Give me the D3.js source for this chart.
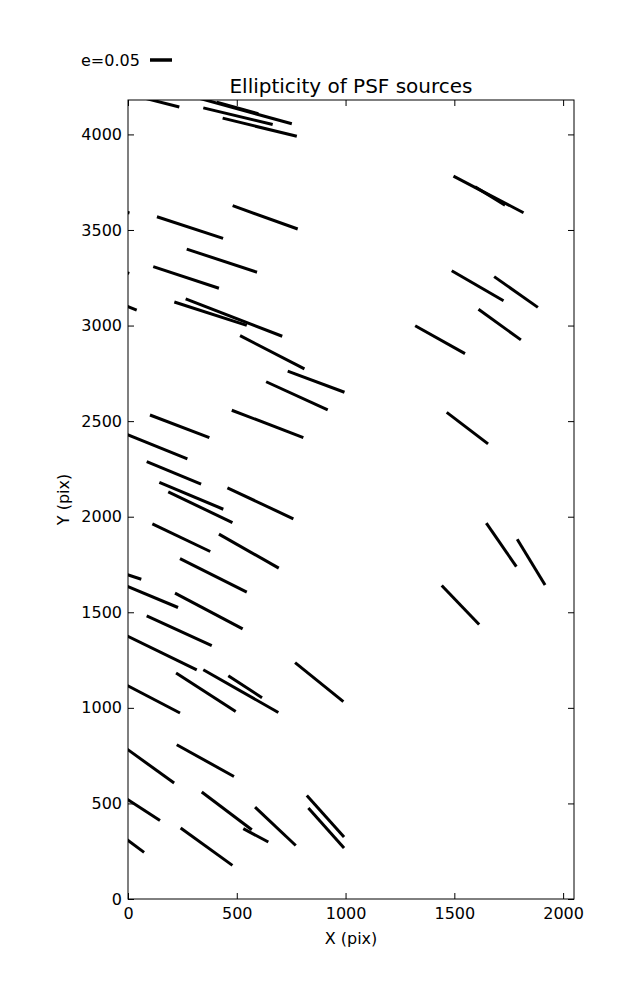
<!DOCTYPE html>
<html>
<head>
<meta charset="utf-8">
<script src="https://cdn.jsdelivr.net/npm/d3@7"></script>
<style>
  html, body { margin: 0; padding: 0; background: #fff; }
  svg { display: block; font-family: "DejaVu Sans", sans-serif; }
</style>
</head>
<body>
<svg id="chart" width="637" height="1000"></svg>
<script>
// ---- data (pixel units of the CCD) ----
const title = "Ellipticity of PSF sources";
const xLabel = "X (pix)";
const yLabel = "Y (pix)";
const legendLabel = "e=0.05";
const xTicks = [0, 500, 1000, 1500, 2000];
const yTicks = [0, 500, 1000, 1500, 2000, 2500, 3000, 3500, 4000];
const xDomain = [0, 2050];
const yDomain = [0, 4180];

// whisker segments: start (x0,y0) and end (x1,y1)
const x0 = [55, 308, 408, 346, 435, 1496, 1595, 481, 133, -82, -80, -60, 270, 116, 1320, 1488, 1683, 1611, 213, 265, 515, 734, 635, 1465, 101, 477, -37, 86, 144, 185, 457, 1647, 1789, 112, 418, 239, -37, -37, 216, 86, -46, 346, 461, 221, 768, -37, -37, 224, -37, 339, 530, 584, 822, 829, -37, 242, 1442];
const y0 = [4196, 4195, 4169, 4139, 4085, 3782, 3726, 3627, 3569, 3615, 3300, 3125, 3400, 3308, 2999, 3287, 3256, 3085, 3123, 3140, 2947, 2762, 2706, 2546, 2532, 2557, 2445, 2288, 2180, 2130, 2151, 1966, 1882, 1962, 1909, 1781, 1709, 1652, 1600, 1481, 1399, 1199, 1168, 1182, 1237, 1137, 811, 807, 546, 560, 368, 481, 542, 476, 338, 371, 1640];
const x1 = [236, 753, 599, 665, 776, 1818, 1733, 780, 437, 7, 6, 40, 593, 418, 1549, 1726, 1884, 1806, 546, 709, 811, 995, 918, 1655, 374, 806, 273, 336, 438, 480, 760, 1785, 1917, 378, 693, 546, 61, 230, 527, 385, 316, 691, 616, 495, 990, 239, 212, 487, 147, 569, 645, 771, 993, 993, 74, 480, 1614];
const y1 = [4143, 4056, 4108, 4052, 3990, 3590, 3630, 3505, 3456, 3589, 3273, 3081, 3279, 3195, 2853, 3130, 3095, 2925, 3001, 2944, 2773, 2651, 2559, 2381, 2414, 2414, 2302, 2170, 2039, 1969, 1989, 1739, 1643, 1818, 1731, 1605, 1673, 1525, 1413, 1326, 1199, 976, 1053, 981, 1033, 973, 607, 641, 411, 362, 298, 280, 324, 267, 244, 176, 1436];

// ---- layout ----
const W = 637, H = 1000;
const mLeft = 128, mRight = 574, mTop = 100, mBottom = 899;
const svg = d3.select("#chart");

const x = d3.scaleLinear().domain(xDomain).range([mLeft, mRight]);
const y = d3.scaleLinear().domain(yDomain).range([mBottom, mTop]);

svg.append("defs").append("clipPath").attr("id", "plotclip")
  .append("rect").attr("x", mLeft).attr("y", mTop)
  .attr("width", mRight - mLeft).attr("height", mBottom - mTop);

const segs = x0.map((d, i) => ({ x0: x0[i], y0: y0[i], x1: x1[i], y1: y1[i] }));

svg.append("g").attr("clip-path", "url(#plotclip)")
  .selectAll("line").data(segs).join("line")
  .attr("x1", d => x(d.x0)).attr("y1", d => y(d.y0))
  .attr("x2", d => x(d.x1)).attr("y2", d => y(d.y1))
  .attr("stroke", "#000").attr("stroke-width", 3)
  .attr("stroke-linecap", "butt");

// axes (ticks inward, on all four sides)
const tickLen = 6;
const axBottom = svg.append("g").attr("transform", `translate(0,${mBottom})`)
  .call(d3.axisBottom(x).tickValues(xTicks).tickSize(-tickLen).tickPadding(9).tickFormat(d3.format("d")));
const axTop = svg.append("g").attr("transform", `translate(0,${mTop})`)
  .call(d3.axisTop(x).tickValues(xTicks).tickSize(-tickLen).tickFormat(""));
const axLeft = svg.append("g").attr("transform", `translate(${mLeft},0)`)
  .call(d3.axisLeft(y).tickValues(yTicks).tickSize(-tickLen).tickPadding(6).tickFormat(d3.format("d")));
const axRight = svg.append("g").attr("transform", `translate(${mRight},0)`)
  .call(d3.axisRight(y).tickValues(yTicks).tickSize(-tickLen).tickFormat(""));

[axBottom, axTop, axLeft, axRight].forEach(g => {
  g.select(".domain").remove();
  g.selectAll(".tick line").attr("stroke", "#000").attr("stroke-width", 1);
  g.selectAll(".tick text").attr("fill", "#000")
    .style("font-family", "DejaVu Sans").style("font-size", "16px");
});

svg.append("rect").attr("x", mLeft).attr("y", mTop)
  .attr("width", mRight - mLeft).attr("height", mBottom - mTop)
  .attr("fill", "none").attr("stroke", "#000").attr("stroke-width", 1);

// title and labels
svg.append("text").attr("x", (mLeft + mRight) / 2).attr("y", 93)
  .attr("text-anchor", "middle").style("font-size", "20px").text(title);
svg.append("text").attr("x", (mLeft + mRight) / 2).attr("y", 944)
  .attr("text-anchor", "middle").style("font-size", "16px").text(xLabel);
svg.append("text").attr("transform", `translate(69,${(mTop + mBottom) / 2}) rotate(-90)`)
  .attr("text-anchor", "middle").style("font-size", "16px").text(yLabel);

// legend key
svg.append("text").attr("x", 81).attr("y", 66).style("font-size", "16px").text(legendLabel);
svg.append("line").attr("x1", 150).attr("x2", 172).attr("y1", 60).attr("y2", 60)
  .attr("stroke", "#000").attr("stroke-width", 3.5);
</script>
</body>
</html>
